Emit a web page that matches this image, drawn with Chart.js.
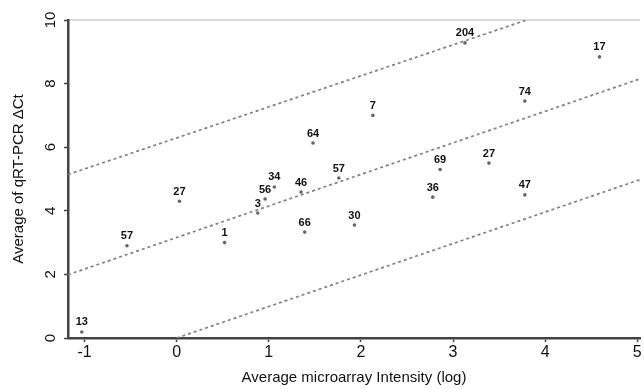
<!DOCTYPE html>
<html>
<head>
<meta charset="utf-8">
<script src="https://cdn.jsdelivr.net/npm/chart.js@4/dist/chart.umd.min.js"></script>
<style>
    html, body { margin: 0; padding: 0; background: #fff; }
    #wrap { width: 644px; height: 389px; }
</style>
</head>
<body>
<div id="wrap"><canvas id="chart"></canvas></div>
<script>
// scatter points: microarray intensity vs qRT-PCR
const pointX = [-1.03, -0.54, 0.03, 0.52, 0.88, 0.96, 1.06, 1.35, 1.39, 1.48, 1.76, 1.93, 2.13, 2.78, 2.86, 3.13, 3.39, 3.78, 3.78, 4.59];
const pointY = [0.19, 2.9, 4.3, 3.0, 3.93, 4.37, 4.75, 4.59, 3.33, 6.13, 5.03, 3.55, 7.0, 4.43, 5.3, 9.28, 5.5, 4.5, 7.45, 8.84];
const pointLabels = ['13', '57', '27', '1', '3', '56', '34', '46', '66', '64', '57', '30', '7', '36', '69', '204', '27', '47', '74', '17'];

// regression line and bands (end points)
const upperX = [-1.18, 3.8];
const upperY = [5.14, 10.0];
const middleX = [-1.18, 5.03];
const middleY = [1.99, 8.15];
const lowerX = [0, 5.03];
const lowerY = [0.0, 4.98];

const xTicks = [-1, 0, 1, 2, 3, 4, 5];
const yTicks = [0, 2, 4, 6, 8, 10];

const FONT = "'Liberation Sans', Arial, sans-serif";

function toPoints(xs, ys) {
    return xs.map((x, i) => ({ x: x, y: ys[i] }));
}

function bandDataset(xs, ys) {
    return {
        type: 'line',
        data: toPoints(xs, ys),
        showLine: true,
        borderColor: '#808080',
        borderWidth: 1.7,
        borderDash: [3, 3],
        pointRadius: 0,
        fill: false
    };
}

const pointLabelPlugin = {
    id: 'pointLabels',
    beforeDraw(chart) {
        const ctx = chart.ctx;
        const area = chart.chartArea;
        ctx.save();
        ctx.strokeStyle = '#dddddd';
        ctx.lineWidth = 2;
        ctx.beginPath();
        ctx.moveTo(area.left, area.top);
        ctx.lineTo(area.right, area.top);
        ctx.stroke();
        ctx.restore();
    },
    afterDatasetsDraw(chart) {
        const ctx = chart.ctx;
        const meta = chart.getDatasetMeta(0);
        ctx.save();
        ctx.font = 'bold 11px ' + FONT;
        ctx.fillStyle = '#111';
        ctx.textAlign = 'center';
        ctx.textBaseline = 'bottom';
        meta.data.forEach((el, i) => {
            ctx.fillText(pointLabels[i], el.x, el.y - 4);
        });
        ctx.restore();
    }
};

new Chart(document.getElementById('chart'), {
    type: 'scatter',
    data: {
        datasets: [
            {
                data: toPoints(pointX, pointY),
                pointRadius: 1.8,
                pointBackgroundColor: '#666',
                pointBorderWidth: 0
            },
            bandDataset(upperX, upperY),
            bandDataset(middleX, middleY),
            bandDataset(lowerX, lowerY)
        ]
    },
    options: {
        responsive: true,
        maintainAspectRatio: false,
        animation: false,
        layout: { padding: { top: 20, right: 0, left: 0, bottom: 0 } },
        plugins: {
            legend: { display: false },
            tooltip: { enabled: false }
        },
        scales: {
            x: {
                type: 'linear',
                min: -1.18,
                max: 5.03,
                afterBuildTicks: (scale) => { scale.ticks = xTicks.map(v => ({ value: v })); },
                afterFit: (scale) => { scale.height = 51; },
                grid: { display: true, drawOnChartArea: false, drawTicks: true, tickLength: 4, color: '#444', tickWidth: 1.5 },
                border: { display: true, color: '#444', width: 2.5 },
                ticks: { color: '#111', font: { family: FONT, size: 16 }, padding: 1, maxRotation: 0 },
                title: {
                    display: true,
                    text: 'Average microarray Intensity (log)',
                    color: '#111',
                    font: { family: FONT, size: 15 },
                    padding: { top: 0, bottom: 2 }
                }
            },
            y: {
                type: 'linear',
                min: 0,
                max: 10,
                afterBuildTicks: (scale) => { scale.ticks = yTicks.map(v => ({ value: v })); },
                afterFit: (scale) => { scale.width = 68; },
                grid: { display: true, drawOnChartArea: false, drawTicks: true, tickLength: 4, color: '#444', tickWidth: 1.5 },
                border: { display: true, color: '#444', width: 2.5 },
                ticks: { color: '#111', font: { family: FONT, size: 15 }, padding: 5, minRotation: 90, maxRotation: 90, crossAlign: 'center' },
                title: {
                    display: true,
                    text: 'Average of qRT-PCR ΔCt',
                    color: '#111',
                    font: { family: FONT, size: 15 },
                    padding: { top: 10, bottom: 0 }
                }
            }
        }
    },
    plugins: [pointLabelPlugin]
});
</script>
</body>
</html>
